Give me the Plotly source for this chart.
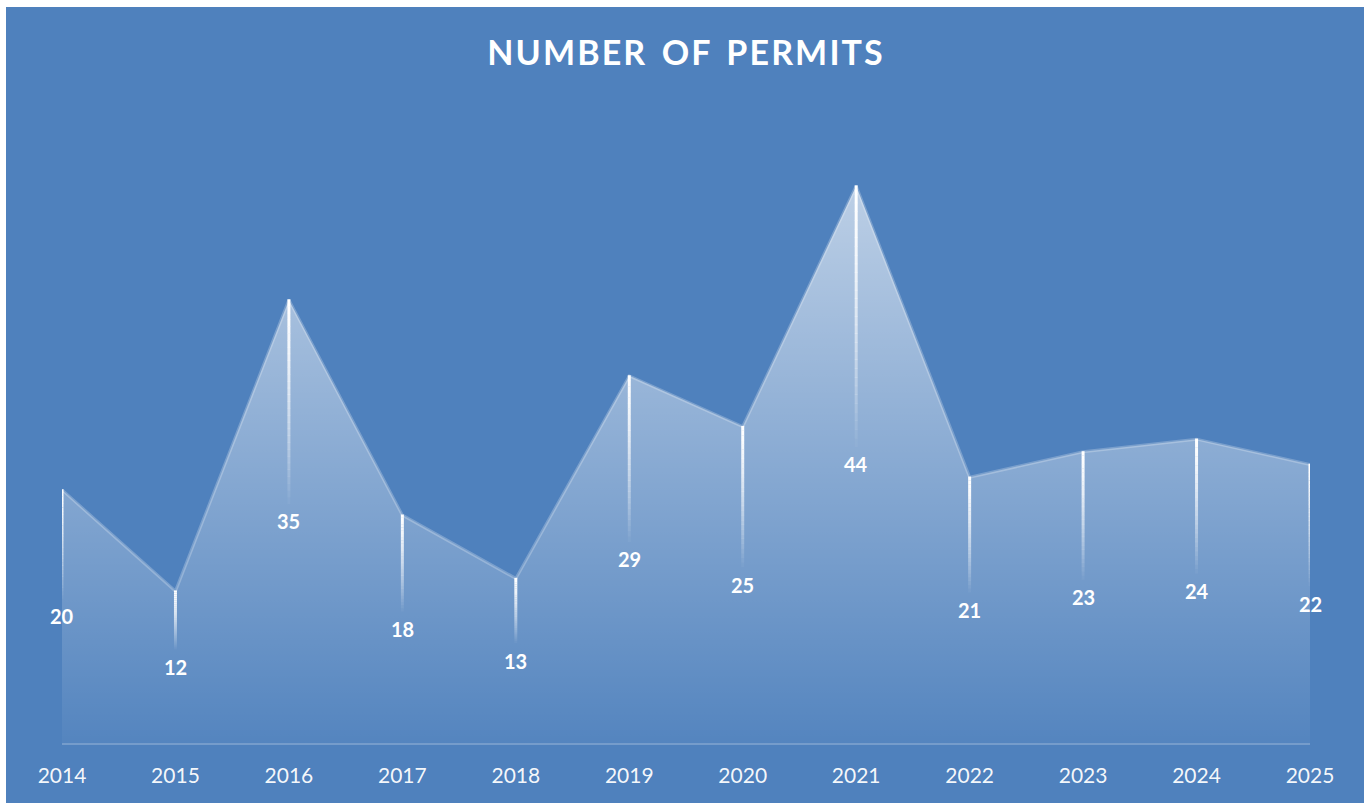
import plotly.graph_objects as go

# Permits issued per year
years = [2014, 2015, 2016, 2017, 2018, 2019, 2020, 2021, 2022, 2023, 2024, 2025]
permits = [20, 12, 35, 18, 13, 29, 25, 44, 21, 23, 24, 22]
year_labels = [str(y) for y in years]

BG = "#4F81BD"
W, H = 1369, 803
FONT = "Lato"

fig = go.Figure()

# Gradient-filled area
fig.add_trace(go.Scatter(
    x=years, y=permits, mode="lines",
    line=dict(color="rgba(255,255,255,0.24)", width=3),
    fill="tozeroy",
    fillgradient=dict(
        type="vertical",
        colorscale=[[0, "rgba(255,255,255,0.03)"], [1, "rgba(255,255,255,0.62)"]],
    ),
    hoverinfo="skip", showlegend=False,
))

# Drop lines fading from white at the point down toward the label
N = 30
for x, v in zip(years, permits):
    top = v + 0.05
    bottom = v / 2 + 1.4
    step = (top - bottom) / N
    for i in range(N):
        y0 = top - i * step
        y1 = y0 - step * 1.05
        alpha = max(0.0, 1.0 - (i / N) ** 1.3)
        fig.add_trace(go.Scatter(
            x=[x, x], y=[y0, y1], mode="lines",
            line=dict(color=f"rgba(255,255,255,{alpha:.3f})", width=3),
            hoverinfo="skip", showlegend=False, cliponaxis=False,
        ))

# Value labels at mid-height of each drop line
for x, v in zip(years, permits):
    fig.add_annotation(
        x=x, y=v / 2, text=f"<b>{v}</b>", showarrow=False,
        font=dict(family=FONT, size=20, color="white"),
        xanchor="center", yanchor="middle",
    )

# Chart panel
fig.add_shape(
    type="rect", xref="paper", yref="paper", layer="below",
    x0=(6 - 62) / (W - 62 - 59), x1=(1364 - 62) / (W - 62 - 59),
    y0=-60 / (H - 110 - 60), y1=(H - 60 - 7) / (H - 110 - 60),
    fillcolor=BG, line=dict(width=0),
)

fig.update_layout(
    width=W, height=H,
    margin=dict(l=62, r=59, t=110, b=60),
    paper_bgcolor="white", plot_bgcolor="rgba(0,0,0,0)",
    title=dict(
        text="<b>N U M B E R   O F   P E R M I T S</b>".replace(" ", "\u200a").replace("\u200a\u200a\u200a", "  "),
        x=(685) / W, xanchor="center",
        y=1 - 53 / H, yanchor="middle", yref="container",
        font=dict(family=FONT, size=34, color="white"),
    ),
    xaxis=dict(
        range=[2014, 2025], tickmode="array", tickvals=years, ticktext=year_labels,
        showgrid=False, zeroline=False,
        showline=True, linecolor="rgba(255,255,255,0.22)", linewidth=2,
        ticks="", ticklabelstandoff=13,
        tickfont=dict(family=FONT, size=21, color="rgba(255,255,255,0.95)"),
        fixedrange=True,
    ),
    yaxis=dict(
        range=[0, 50], showgrid=False, zeroline=False, showticklabels=False,
        showline=False, fixedrange=True,
    ),
)

fig.write_html("out.html")
